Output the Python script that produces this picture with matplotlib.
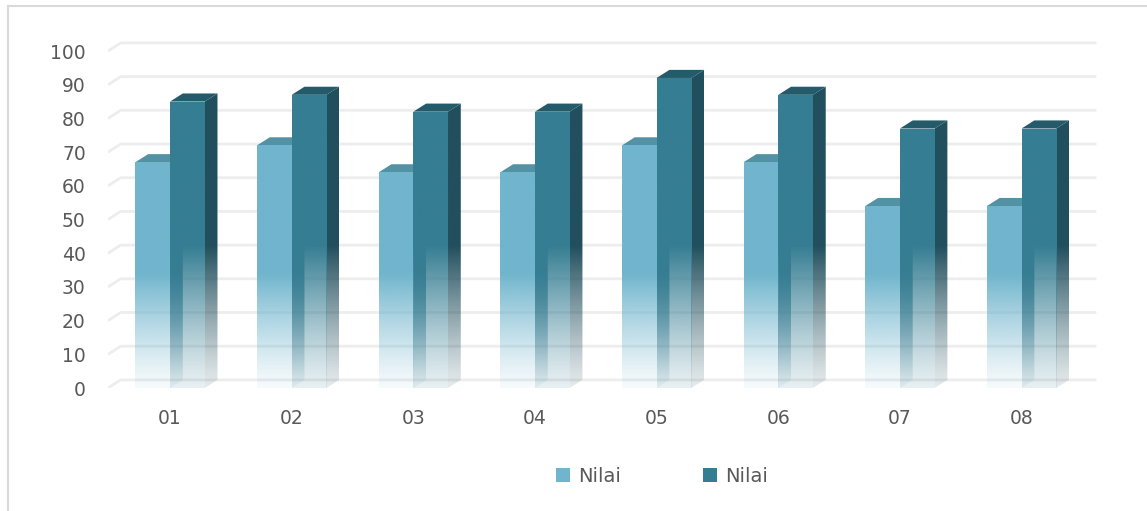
import numpy as np
import matplotlib
matplotlib.use("Agg")
import matplotlib.pyplot as plt
from matplotlib.patches import Polygon, Patch
from matplotlib.lines import Line2D

categories = ["01", "02", "03", "04", "05", "06", "07", "08"]
nilai_a = [67, 72, 64, 64, 72, 67, 54, 54]
nilai_b = [85, 87, 82, 82, 92, 87, 77, 77]
series_names = ["Nilai", "Nilai"]
y_ticks = list(range(0, 101, 10))

# look of the fake 3d bars
W = 0.285            # bar width (category units)
DX, DY = 0.105, 2.4  # depth offset
LIGHT = {"front": "#70B5CD", "top": "#5391A5", "side": "#3F8196", "solid": 34, "floor": 0.06}
DARK = {"front": "#357D92", "top": "#235B6B", "side": "#214F5D", "solid": 42, "floor": 0.12}
TXT = "#595959"


def grad(color, y0, y1, solid, floor):
    ys = np.linspace(y0, y1, 256)
    a = np.clip(floor + (1 - floor) * (ys / solid) ** 1.2, floor, 1)
    img = np.zeros((256, 1, 4))
    img[..., :3] = matplotlib.colors.to_rgb(color)
    img[..., 3] = a[:, None]
    return img


def shaded(ax, patch, color, style, z):
    # gradient image clipped to the given patch
    xs, ys = patch.get_path().vertices.T if isinstance(patch, Polygon) else (None, None)
    if xs is None:
        x0, y0 = patch.get_xy()
        xs = [x0, x0 + patch.get_width()]
        ys = [y0, y0 + patch.get_height()]
    ext = (min(xs), max(xs), min(ys), max(ys))
    im = ax.imshow(grad(color, ext[2], ext[3], style["solid"], style["floor"]),
                   extent=ext, origin="lower", aspect="auto",
                   interpolation="bilinear", zorder=z)
    im.set_clip_path(patch)


fig = plt.figure(figsize=(11.47, 5.11), dpi=100)
ax = fig.add_axes([108 / 1147, 123 / 511, 989 / 1147, 347.1 / 511])
x = np.arange(len(categories))

# back wall grid lines
for t in y_ticks:
    ax.plot([-0.51, -0.51 + DX, len(categories) - 0.5 + DX + 0.01],
            [t, t + DY, t + DY], color="#EDEDED", lw=2, zorder=1,
            solid_capstyle="butt")

bars_a = ax.bar(x - W, nilai_a, W, align="edge", facecolor="none", edgecolor="none")
bars_b = ax.bar(x, nilai_b, W, align="edge", facecolor="none", edgecolor="none")

z = 2
for ra, rb in zip(bars_a, bars_b):
    for rect, st in ((ra, LIGHT), (rb, DARK)):
        x0, _ = rect.get_xy()
        x1 = x0 + rect.get_width()
        h = rect.get_height()
        side = Polygon([(x1, 0), (x1 + DX, DY), (x1 + DX, h + DY), (x1, h)],
                       closed=True, facecolor="none", edgecolor="none")
        ax.add_patch(side)
        shaded(ax, side, st["side"], st, z)
        ax.add_patch(Polygon([(x0, h), (x0 + DX, h + DY), (x1 + DX, h + DY), (x1, h)],
                             closed=True, facecolor=st["top"], edgecolor="none", zorder=z + 1))
        rect.set_zorder(z + 2)
        shaded(ax, rect, st["front"], st, z + 2)
        z += 3

ax.set_xlim(-0.51, 7.62)
ax.set_ylim(0, 103)
ax.set_xticks(x)
ax.set_xticklabels(categories)
ax.set_yticks(y_ticks)
ax.tick_params(axis="both", length=0, labelsize=13.5, labelcolor=TXT)
ax.tick_params(axis="y", pad=16)
ax.tick_params(axis="x", pad=15)
for s in ax.spines.values():
    s.set_visible(False)

handles = [Patch(facecolor=LIGHT["front"]), Patch(facecolor=DARK["front"])]
leg = fig.legend(handles, series_names, loc="center", bbox_to_anchor=(0.577, 0.068),
                 ncol=2, frameon=False, fontsize=14, handlelength=0.75, handleheight=0.75,
                 handletextpad=0.4, columnspacing=4.2)
for t in leg.get_texts():
    t.set_color(TXT)

# chart frame
fig.add_artist(Line2D([8 / 1147, 8 / 1147], [0, 1 - 6 / 511], color="#D9D9D9", lw=1.5))
fig.add_artist(Line2D([8 / 1147, 1], [1 - 6 / 511, 1 - 6 / 511], color="#D9D9D9", lw=1.5))

fig.savefig("out.png", dpi=100)
